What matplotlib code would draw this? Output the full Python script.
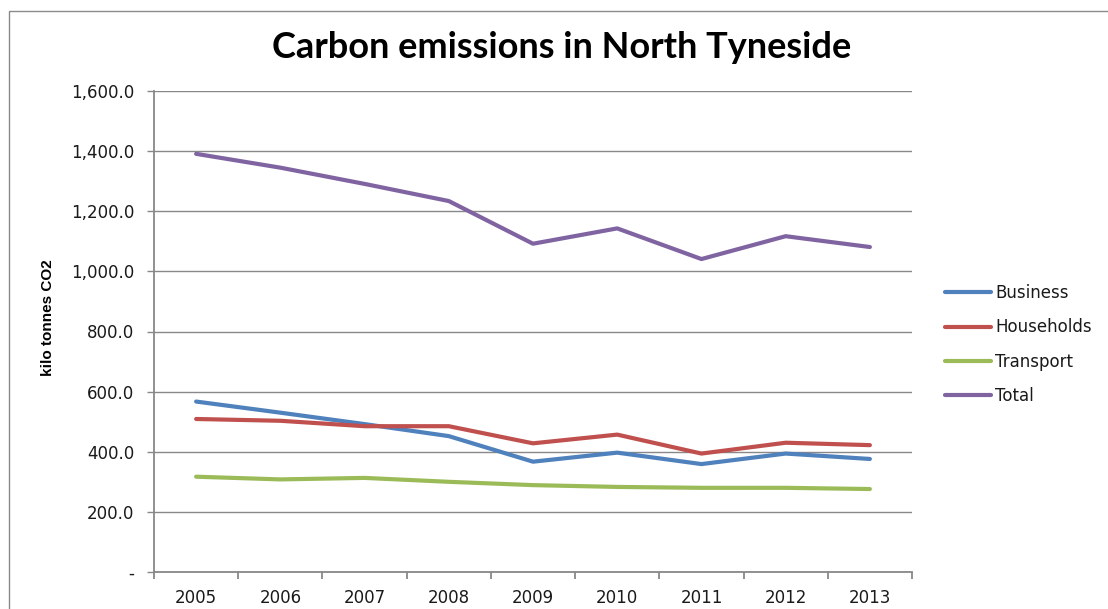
import matplotlib
matplotlib.use("Agg")
import matplotlib.pyplot as plt
from matplotlib.patches import Rectangle
from matplotlib.ticker import FixedLocator, FuncFormatter

years = ["2005", "2006", "2007", "2008", "2009", "2010", "2011", "2012", "2013"]
business = [567, 530, 492, 452, 367, 397, 359, 394, 376]
households = [509, 503, 485, 485, 428, 457, 394, 430, 422]
transport = [317, 308, 313, 300, 289, 283, 280, 280, 276]
total = [1391, 1345, 1291, 1234, 1092, 1143, 1041, 1117, 1081]

series_names = ["Business", "Households", "Transport", "Total"]
series_colors = ["#4F81BD", "#C0504D", "#9BBB59", "#8064A2"]
yticks = [0, 200, 400, 600, 800, 1000, 1200, 1400, 1600]

W, H = 1108, 609
fig = plt.figure(figsize=(W / 100, H / 100), dpi=100)
fig.patch.set_facecolor("white")

# chart border
fig.patches.append(Rectangle((8.5 / W, -0.1), 1.2, 1.1 - 11 / H, transform=fig.transFigure,
                             fill=False, edgecolor="#8a8a8a", lw=1.0))

left, right, top, bottom = 154, 912, 91, 572
ax = fig.add_axes([left / W, 1 - bottom / H, (right - left) / W, (bottom - top) / H])

x = list(range(len(years)))
for vals, name, col in zip([business, households, transport, total], series_names, series_colors):
    ax.plot(x, vals, color=col, lw=3.0, label=name, solid_capstyle="round", solid_joinstyle="round")

ax.set_xlim(-0.5, len(years) - 0.5)
ax.set_ylim(0, 1600)
ax.set_yticks(yticks)
ax.yaxis.set_major_formatter(FuncFormatter(lambda v, p: "-" if v == 0 else f"{v:,.1f}"))
ax.set_xticks(x)
ax.set_xticklabels(years)
ax.xaxis.set_minor_locator(FixedLocator([i - 0.5 for i in range(len(years) + 1)]))

gcol = "#888888"
ax.grid(axis="y", color=gcol, lw=1.0)
ax.set_axisbelow(True)
for s in ["top", "right"]:
    ax.spines[s].set_visible(False)
for s in ["left", "bottom"]:
    ax.spines[s].set_color(gcol)
    ax.spines[s].set_linewidth(1.3)

ax.tick_params(axis="y", direction="out", length=5, width=1, color=gcol, pad=9,
               labelsize=12, labelcolor="#1a1a1a")
ax.tick_params(axis="x", which="major", length=0, pad=12.5, labelsize=12, labelcolor="#1a1a1a")
ax.tick_params(axis="x", which="minor", direction="out", length=5, width=1.3, color=gcol)
for lab in ax.get_xticklabels() + ax.get_yticklabels():
    lab.set_family("DejaVu Sans")

fig.text(48 / W, 1 - 318 / H, "kilo tonnes CO2", rotation=90, ha="center", va="center",
         fontsize=11, fontweight="bold", family=["Liberation Sans", "DejaVu Sans"])

fig.text(562 / W, 1 - 48 / H, "Carbon emissions in North Tyneside", ha="center", va="center",
         fontsize=26, fontweight="bold", family=["Lato", "DejaVu Sans"])

leg = ax.legend(loc="center left", bbox_to_anchor=(937 / W, 1 - 344.5 / H),
                bbox_transform=fig.transFigure, frameon=False, fontsize=12,
                handlelength=2.75, handletextpad=0.25, labelspacing=0.97, borderpad=0)
for t in leg.get_texts():
    t.set_family("DejaVu Sans")
    t.set_color("#1a1a1a")

fig.savefig("out.png", dpi=100)
